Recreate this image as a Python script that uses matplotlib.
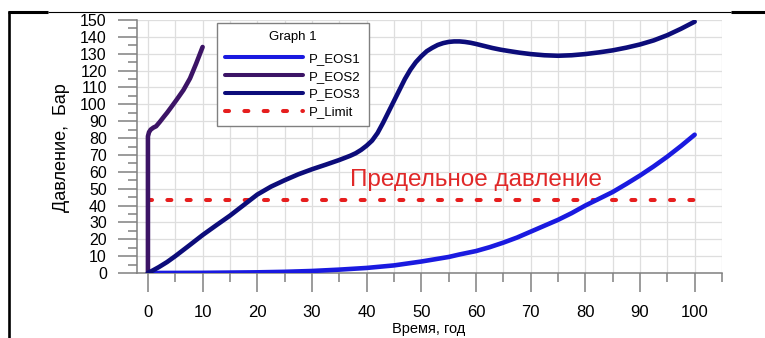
import matplotlib
matplotlib.use("Agg")
import matplotlib.pyplot as plt
from matplotlib.lines import Line2D
from matplotlib.ticker import MultipleLocator

plt.rcParams['font.family'] = ['Liberation Sans', 'DejaVu Sans']

# Pressure histories for three equations of state
eos1_t = [0, 10, 20, 25, 30, 35, 40, 45, 50, 55, 57, 60, 62.5, 65, 67.5, 70, 72.5, 75, 77.5,
          80, 82.5, 85, 87.5, 90, 92.5, 95, 97.5, 100]
eos1_p = [0, 0.1, 0.4, 0.7, 1.2, 2.0, 3.0, 4.5, 6.8, 9.5, 11.0, 13.0, 15.3, 18.0, 21.0, 24.5,
          28.0, 31.5, 35.5, 40.0, 44.0, 48.0, 52.8, 57.8, 63.2, 69.0, 75.3, 82.0]

eos2_t = [0, 0, 0.2, 0.5, 1.0, 1.5, 2.2, 3.0, 3.5, 4.3, 5.2, 6.5, 7.7, 8.8, 10]
eos2_p = [0, 81, 83.5, 85, 86.2, 87, 89.7, 93, 95, 98.5, 102.5, 108.5, 115.4, 124, 134]

eos3_t = [0, 1, 2, 3.5, 5, 7.5, 10, 12.5, 15, 18, 20, 22.5, 25, 27.5, 30, 32.5, 35, 37, 38, 39,
          40, 41, 42, 43, 44, 45, 46, 47, 48, 49, 50, 51, 52, 53, 54, 55, 56, 57, 58, 59, 60,
          61.5, 63, 64.5, 66, 68, 70, 72.5, 75, 77.5, 80, 82.5, 85, 87.5, 90, 92.5, 95, 97.5, 100]
eos3_p = [0, 1.7, 3.5, 6.5, 10, 16.2, 22.5, 28.3, 34, 41.5, 46.5, 51.2, 55, 58.5, 61.5, 64.2,
          67, 69.5, 71, 73, 75.5, 78.5, 83, 89, 95.5, 102, 108.5, 115, 120.5, 125, 128.5, 131.5,
          133.5, 135.2, 136.3, 137, 137.3, 137.3, 137, 136.5, 135.8, 134.6, 133.4, 132.4, 131.6,
          130.6, 129.8, 129.1, 128.8, 129.1, 129.8, 130.8, 132, 133.6, 135.5, 137.9, 141, 144.8, 149]

limit_t = [0, 100]
limit_p = [43, 43]

limit_text = "Предельное давление"
series_names = ["P_EOS1", "P_EOS2", "P_EOS3", "P_Limit"]
x_label = "Время, год"
y_label = "Давление,  Бар"

W, H = 765, 338
fig = plt.figure(figsize=(W / 100, H / 100), dpi=100)
ax = fig.add_axes([137 / W, 1 - 273 / H, (722 - 137) / W, (273 - 20) / H])

lw = 3.3
c1, c2, c3, cr = "#1a1ae0", "#3c1466", "#0c0c7a", "#e61e1e"
ax.plot(eos1_t, eos1_p, color=c1, lw=lw, solid_capstyle='round', solid_joinstyle='round', zorder=4)
ax.plot(eos2_t, eos2_p, color=c2, lw=lw, solid_capstyle='round', solid_joinstyle='round', zorder=4)
ax.plot(eos3_t, eos3_p, color=c3, lw=lw, solid_capstyle='round', solid_joinstyle='round', zorder=4)
dash = (0, (1.0, 3.8))
ax.plot(limit_t, limit_p, color=cr, lw=2.9, linestyle=dash, dash_capstyle='round', zorder=3)

ax.text(60, 51.6, limit_text, color="#e02828", fontsize=17.5, ha='center', va='baseline', zorder=5)

ax.set_xlim(-2, 105)
ax.set_ylim(0, 150)
ax.xaxis.set_major_locator(MultipleLocator(10))
ax.xaxis.set_minor_locator(MultipleLocator(5))
ax.yaxis.set_major_locator(MultipleLocator(10))
ax.yaxis.set_minor_locator(MultipleLocator(5))

ax.grid(which='major', axis='both', color='#dedede', lw=0.9, zorder=0)
ax.grid(which='minor', axis='x', color='#dedede', lw=0.9, zorder=0)
ax.set_axisbelow(True)

for s in ['top', 'right']:
    ax.spines[s].set_visible(False)
for s in ['left', 'bottom']:
    ax.spines[s].set_color('#808080')
    ax.spines[s].set_linewidth(1.1)

ax.tick_params(which='major', length=13.7, width=1.1, color='#808080', direction='out')
ax.tick_params(which='minor', length=6.8, width=1.1, color='#808080', direction='out')
ax.tick_params(axis='x', which='major', pad=9, labelsize=12)
ax.tick_params(axis='y', which='major', pad=8, labelsize=11.5)

fig.text(62 / W, 1 - 148 / H, y_label, rotation=90, ha='center', va='center', fontsize=13)
fig.text(429 / W, 1 - 333.5 / H, x_label, ha='center', va='baseline', fontsize=10.5)

handles = [
    Line2D([], [], color=c1, lw=2.9, solid_capstyle='round'),
    Line2D([], [], color=c2, lw=2.9, solid_capstyle='round'),
    Line2D([], [], color=c3, lw=2.9, solid_capstyle='round'),
    Line2D([], [], color=cr, lw=2.9, linestyle=dash, dash_capstyle='round'),
]
leg = ax.legend(handles, series_names, title="Graph 1", loc='upper left',
                bbox_to_anchor=(217 / W, 1 - 23 / H), bbox_transform=fig.transFigure,
                borderaxespad=0, fontsize=9.5, title_fontsize=9.5, handlelength=5.9,
                handletextpad=0.5, labelspacing=0.42, borderpad=0.6,
                fancybox=False, framealpha=1, edgecolor='#808080')
leg.get_frame().set_linewidth(1.0)
leg._legend_box.sep = 7
leg.set_zorder(6)

# Page frame around the chart
def fline(xs, ys, w):
    fig.add_artist(Line2D([x / W for x in xs], [1 - y / H for y in ys], color='black',
                          lw=w, transform=fig.transFigure, solid_capstyle='butt'))

fline([48, 731], [11.7, 11.7], 0.8)
fline([8, 48], [12, 12], 2.2)
fline([731, 765], [12, 12], 2.2)
fline([9.3, 9.3], [11, 338], 1.9)

fig.savefig("out.png", dpi=100)
